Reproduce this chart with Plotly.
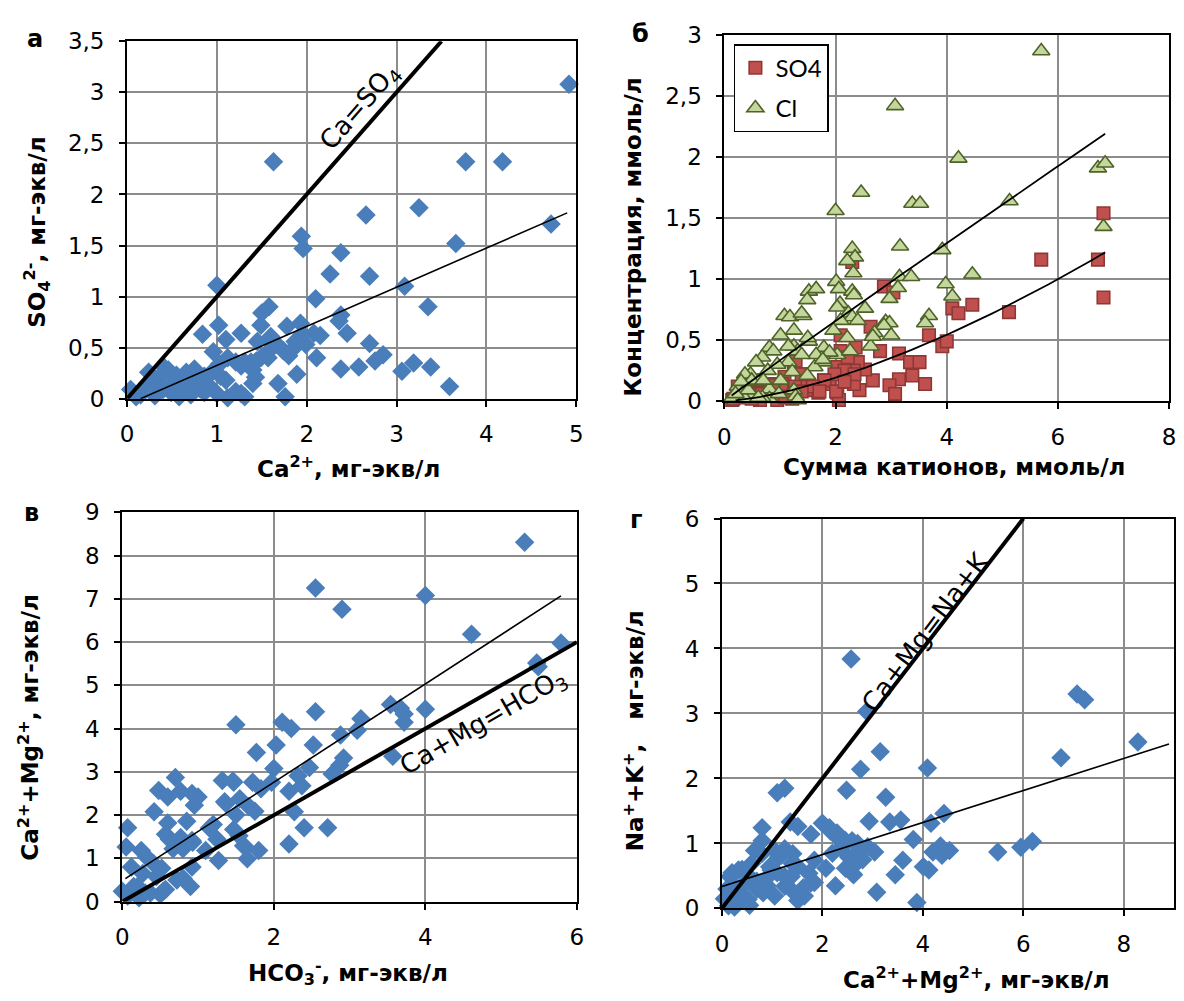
import plotly.graph_objects as go

W, H = 1184, 1001

# ---------------- data ----------------
# (а) Ca2+ vs SO4 2-, мг-экв/л
ca_so4 = [
    (4.92, 3.08), (1.63, 2.32), (3.77, 2.32), (4.18, 2.32), (2.66, 1.80), (3.25, 1.87),
    (4.72, 1.71), (3.66, 1.52), (1.94, 1.59), (1.96, 1.47), (2.38, 1.43), (2.26, 1.22),
    (2.70, 1.20), (1.00, 1.11), (3.09, 1.10), (2.10, 0.98), (3.35, 0.90), (1.58, 0.90),
    (1.50, 0.84), (2.38, 0.82), (2.36, 0.76), (1.02, 0.72), (2.45, 0.64), (1.27, 0.64),
    (0.84, 0.63), (1.49, 0.72), (1.78, 0.71), (1.93, 0.74), (2.08, 0.64), (2.15, 0.62),
    (2.70, 0.54), (1.10, 0.58), (2.85, 0.43), (2.76, 0.37), (0.96, 0.46), (2.11, 0.40),
    (2.58, 0.31), (2.38, 0.29), (3.06, 0.27), (3.19, 0.35), (3.38, 0.31), (3.59, 0.12),
    (1.89, 0.24), (1.68, 0.15), (1.76, 0.02), (1.31, 0.02), (1.21, 0.07), (1.00, 0.05),
    (1.10, 0.18), (1.12, 0.01), (1.40, 0.15), (1.61, 0.55), (1.74, 0.47), (1.80, 0.42),
    (1.86, 0.50), (1.99, 0.53), (1.31, 0.36), (1.44, 0.37), (1.57, 0.40), (1.40, 0.28),
    (1.45, 0.56), (1.60, 0.61), (1.67, 0.53), (1.87, 0.56), (1.95, 0.63), (1.12, 0.40),
    (1.21, 0.36), (1.38, 0.36), (1.49, 0.40), (1.56, 0.45), (1.43, 0.21), (1.27, 0.05),
    (1.27, 0.32), (1.03, 0.34), (1.04, 0.22), (0.04, 0.09), (0.24, 0.26), (0.15, 0.04),
    (0.37, 0.22), (0.46, 0.28), (0.55, 0.23), (0.64, 0.18), (0.75, 0.29), (0.86, 0.22),
    (0.40, 0.09), (0.49, 0.06), (0.60, 0.09), (0.71, 0.04), (0.81, 0.10), (0.31, 0.03),
    (0.20, 0.12), (0.37, 0.15), (0.53, 0.15), (0.70, 0.14), (0.86, 0.06), (0.93, 0.25),
    (0.42, 0.30), (0.10, 0.02), (0.28, 0.18), (0.58, 0.02), (0.66, 0.26), (0.78, 0.19),
    (0.90, 0.14), (0.47, 0.12), (0.62, 0.12),
]
# trend of (а): SO4 = k*Ca + b
a_fit_k, a_fit_b, a_fit_x = 0.383, -0.057, (0.15, 4.9)

# (б) сумма катионов vs SO4 / Cl, ммоль/л
sum_so4 = [
    (6.82, 1.54), (5.70, 1.16), (6.72, 1.16), (6.82, 0.85), (4.46, 0.79), (4.10, 0.76),
    (4.21, 0.72), (5.12, 0.73), (2.87, 0.94), (3.04, 0.89), (2.30, 1.14), (3.68, 0.54),
    (3.92, 0.45), (4.00, 0.49), (2.63, 0.61), (2.80, 0.41), (3.14, 0.39), (3.34, 0.32),
    (3.51, 0.32), (3.38, 0.21), (3.14, 0.18), (2.97, 0.13), (3.61, 0.14), (3.07, 0.06),
    (2.67, 0.17), (2.53, 0.26), (2.43, 0.09), (2.03, 0.28), (2.09, 0.54), (2.09, 0.41),
    (2.36, 0.44), (2.23, 0.32), (2.40, 0.32), (2.33, 0.25), (2.23, 0.16), (2.33, 0.14),
    (2.03, 0.07), (2.06, 0.01), (1.89, 0.14), (1.79, 0.17), (1.62, 0.10), (1.49, 0.09),
    (1.25, 0.30), (1.42, 0.22), (1.42, 0.14), (1.08, 0.20), (0.81, 0.14), (1.01, 0.09),
    (0.61, 0.06), (0.37, 0.03), (0.24, 0.12), (0.14, 0.01), (0.64, 0.01), (0.95, 0.01),
    (1.22, 0.02), (0.57, 0.17), (1.28, 0.33), (1.69, 0.07), (2.16, 0.25), (2.34, 0.22),
    (1.98, 0.22), (2.22, 0.36), (1.80, 0.17), (1.59, 0.12), (1.27, 0.12), (1.39, 0.22),
    (1.03, 0.14), (0.88, 0.13), (0.67, 0.06), (0.16, 0.02), (0.49, 0.02), (1.09, 0.03),
    (1.39, 0.08), (1.71, 0.08), (2.01, 0.08), (2.16, 0.16), (0.40, 0.08), (0.30, 0.05),
]
sum_cl = [
    (5.70, 2.87), (3.07, 2.42), (4.21, 1.99), (2.46, 1.71), (3.38, 1.62), (3.52, 1.62),
    (2.00, 1.56), (5.13, 1.64), (6.72, 1.91), (6.85, 1.95), (6.82, 1.43), (3.16, 1.27),
    (3.92, 1.24), (2.30, 1.25), (2.35, 1.18), (2.21, 1.15), (2.32, 1.05), (3.15, 1.02),
    (3.36, 1.02), (4.46, 1.04), (3.98, 0.96), (4.10, 0.86), (2.01, 0.98), (2.06, 0.92),
    (2.30, 0.90), (2.33, 0.87), (1.52, 0.90), (1.65, 0.92), (1.49, 0.83), (3.12, 0.93),
    (2.97, 0.84), (2.53, 0.76), (2.08, 0.80), (2.03, 0.77), (3.68, 0.70), (3.61, 0.64),
    (1.08, 0.70), (1.18, 0.69), (1.42, 0.70), (2.23, 0.72), (2.30, 0.69), (2.09, 0.66),
    (2.40, 0.66), (2.90, 0.65), (2.97, 0.64), (2.87, 0.62), (2.70, 0.56), (3.00, 0.54),
    (2.63, 0.45), (1.25, 0.58), (1.01, 0.54), (1.96, 0.58), (2.21, 0.52), (1.52, 0.49),
    (1.25, 0.45), (0.81, 0.44), (0.88, 0.41), (1.79, 0.44), (1.32, 0.41), (1.65, 0.38),
    (2.03, 0.38), (1.89, 0.40), (2.26, 0.41), (0.68, 0.36), (0.57, 0.32), (1.15, 0.32),
    (1.79, 0.32), (0.95, 0.30), (1.62, 0.28), (1.22, 0.24), (0.78, 0.25), (0.47, 0.22),
    (1.49, 0.21), (1.01, 0.17), (0.61, 0.16), (0.24, 0.12), (0.37, 0.09), (0.81, 0.10),
    (1.25, 0.09), (0.47, 0.05), (0.81, 0.02), (1.28, 0.04), (1.32, 0.01), (0.14, 0.03),
    (0.37, 0.02), (0.98, 0.06), (0.68, 0.03), (1.39, 0.72), (1.50, 0.52), (2.67, 0.53),
    (1.15, 0.45), (1.77, 0.34), (1.39, 0.38), (0.37, 0.22), (0.49, 0.17), (0.70, 0.17),
    (0.43, 0.09), (0.61, 0.03), (0.30, 0.16), (0.20, 0.06),
]
# power trends of (б): y = a * x^p
so4_fit_a, so4_fit_p, so4_fit_x = 0.068, 1.50, (0.2, 6.85)
cl_fit_a, cl_fit_p, cl_fit_x = 0.335, 0.976, (0.13, 6.85)

# (в) HCO3- vs Ca2+ + Mg2+, мг-экв/л
hco3_camg = [
    (5.31, 8.31), (2.55, 7.25), (2.90, 6.76), (4.00, 7.08), (4.61, 6.18), (5.79, 5.98),
    (5.47, 5.52), (5.49, 5.43), (3.54, 4.56), (3.67, 4.47), (3.72, 4.34), (3.72, 4.15),
    (4.00, 4.45), (2.55, 4.39), (3.15, 4.23), (3.10, 3.96), (2.88, 3.85), (1.50, 4.09),
    (2.11, 4.15), (2.23, 4.00), (2.03, 3.62), (2.52, 3.62), (1.77, 3.45), (3.57, 3.36),
    (2.92, 3.32), (2.87, 3.15), (2.77, 2.95), (2.47, 3.10), (2.00, 3.08), (2.32, 2.91),
    (2.37, 2.68), (1.97, 2.76), (1.32, 2.80), (1.47, 2.76), (1.72, 2.76), (1.83, 2.61),
    (2.20, 2.55), (0.70, 2.87), (0.48, 2.57), (0.60, 2.42), (0.77, 2.55), (0.92, 2.50),
    (1.00, 2.42), (0.95, 2.23), (1.35, 2.31), (1.55, 2.38), (1.67, 2.20), (1.75, 2.09),
    (1.50, 2.01), (2.27, 2.08), (0.42, 2.08), (0.07, 1.71), (0.60, 1.82), (0.85, 1.86),
    (1.20, 1.78), (0.57, 1.56), (1.47, 1.67), (2.40, 1.71), (2.71, 1.71), (2.20, 1.33),
    (0.62, 1.44), (0.77, 1.48), (0.67, 1.22), (0.92, 1.41), (0.80, 1.22), (1.60, 1.29),
    (1.80, 1.18), (1.65, 0.99), (1.27, 0.95), (1.10, 1.18), (1.25, 1.44), (0.05, 1.26),
    (0.25, 1.18), (0.32, 1.03), (0.12, 0.80), (0.52, 0.77), (0.92, 0.80), (0.80, 0.54),
    (0.90, 0.35), (0.27, 0.65), (0.45, 0.58), (0.57, 0.28), (0.50, 0.17), (0.37, 0.20),
    (0.20, 0.35), (0.00, 0.24), (0.07, 0.13), (0.22, 0.09), (0.41, 0.88), (0.93, 1.37),
    (0.72, 0.50), (0.54, 0.24), (0.30, 0.20), (0.15, 0.35), (1.63, 1.25), (1.54, 1.52),
    (1.15, 1.70), (1.46, 2.79), (1.37, 2.27),
]
c_fit_k, c_fit_b, c_fit_x = 1.137, 0.485, (0.04, 5.79)

# (г) Ca2+ + Mg2+ vs Na+ + K+, мг-экв/л
camg_nak = [
    (2.57, 3.84), (2.88, 3.03), (7.07, 3.30), (7.22, 3.21), (8.28, 2.56), (6.75, 2.32),
    (3.15, 2.41), (2.76, 2.14), (4.09, 2.16), (2.48, 1.82), (3.26, 1.71), (1.10, 1.78),
    (1.25, 1.85), (4.42, 1.46), (2.93, 1.34), (3.34, 1.33), (3.56, 1.36), (4.16, 1.31),
    (0.80, 1.24), (1.36, 1.33), (1.51, 1.26), (2.00, 1.31), (2.14, 1.24), (2.29, 1.16),
    (1.77, 1.14), (3.81, 1.06), (5.49, 0.87), (5.95, 0.94), (6.18, 1.03), (4.35, 0.96),
    (4.53, 0.89), (4.20, 0.87), (4.38, 0.82), (3.04, 0.87), (3.60, 0.74), (4.01, 0.64),
    (4.12, 0.59), (3.45, 0.52), (3.08, 0.25), (3.88, 0.09), (2.26, 0.35), (2.07, 0.62),
    (2.59, 0.54), (2.67, 0.69), (2.52, 0.79), (2.37, 0.94), (2.59, 1.04), (2.74, 0.89),
    (1.84, 0.74), (1.73, 0.54), (1.84, 0.40), (1.62, 0.32), (1.51, 0.12), (1.43, 0.25),
    (1.25, 0.49), (1.40, 0.69), (1.13, 0.79), (0.95, 0.64), (0.80, 1.04), (0.65, 0.89),
    (2.16, 1.19), (2.30, 1.09), (2.43, 0.99), (2.46, 0.62), (2.62, 0.52), (1.77, 0.39),
    (1.64, 0.19), (1.25, 0.34), (1.51, 0.64), (1.18, 0.82), (0.98, 0.59), (0.79, 0.84),
    (0.59, 0.69), (0.33, 0.59), (0.16, 0.49), (0.26, 0.34), (0.46, 0.39), (0.69, 0.42),
    (0.82, 0.24), (1.05, 0.19), (0.52, 0.14), (0.30, 0.09), (0.13, 0.04), (0.92, 0.49),
    (1.38, 0.49), (1.25, 0.92), (1.41, 0.84), (1.05, 0.89), (0.20, 0.55), (0.10, 0.30),
    (0.05, 0.15), (0.40, 0.60), (0.60, 0.45), (0.70, 0.30), (0.40, 0.20), (0.90, 0.35),
    (1.10, 0.55), (0.55, 0.05), (0.25, 0.02), (2.45, 1.05), (2.80, 0.75), (2.70, 1.00),
    (2.20, 0.85), (2.90, 0.95),
]
d_fit_k, d_fit_b, d_fit_x = 0.2465, 0.336, (0.0, 8.9)

# ---------------- styling ----------------
BLUE = "#4A7EBB"
RED, RED_EDGE = "#C0504D", "#8C3836"
GREEN, GREEN_EDGE = "#C3D69B", "#4F6228"
GRID = "#8C8C8C"
TICK_FONT = dict(family="DejaVu Sans", size=23, color="black")
TITLE_FONT = dict(family="DejaVu Sans", size=23, color="black")
LETTER_FONT = dict(family="DejaVu Sans", size=24, color="black")
LINE_FONT = dict(family="DejaVu Sans", size=26, color="black")

# plot areas in pixels: left, right, top, bottom
boxes = {
    "": (121.5, 576.0, 29.0, 396.0),
    "2": (726.0, 1176.0, 22.7, 398.5),
    "3": (116.7, 576.7, 512.7, 912.3),
    "4": (723.5, 1181.0, 519.0, 919.3),
}


def fx(px):
    return px / W


def fy(py):
    return 1 - py / H


def unzip(pairs):
    return [p[0] for p in pairs], [p[1] for p in pairs]


def diamonds(pairs, ax):
    xs, ys = unzip(pairs)
    return go.Scatter(x=xs, y=ys, mode="markers", xaxis="x" + ax, yaxis="y" + ax,
                      marker=dict(symbol="diamond", size=15, color=BLUE, line=dict(width=0)),
                      cliponaxis=False, showlegend=False, hoverinfo="x+y")


def line(xs, ys, ax, width):
    return go.Scatter(x=xs, y=ys, mode="lines", xaxis="x" + ax, yaxis="y" + ax,
                      line=dict(color="black", width=width), showlegend=False,
                      hoverinfo="skip")


def linear(k, b, xr, ax):
    return line(list(xr), [k * x + b for x in xr], ax, 1.6)


def power(a, p, xr, ax, n=60):
    xs = [xr[0] + (xr[1] - xr[0]) * i / (n - 1) for i in range(n)]
    return line(xs, [a * x ** p for x in xs], ax, 1.8)


fig = go.Figure()

# (а)
fig.add_trace(diamonds(ca_so4, ""))
fig.add_trace(line([0, 3.5], [0, 3.5], "", 4))
fig.add_trace(linear(a_fit_k, a_fit_b, a_fit_x, ""))

# (б)
sx, sy = unzip(sum_so4)
cx, cy = unzip(sum_cl)
fig.add_trace(go.Scatter(x=sx, y=sy, mode="markers", name="SO4", xaxis="x2", yaxis="y2",
                         marker=dict(symbol="square", size=12.5, color=RED,
                                     line=dict(color=RED_EDGE, width=1.6)),
                         cliponaxis=False, legendgroup="so4"))
fig.add_trace(go.Scatter(x=cx, y=cy, mode="markers", name="Cl", xaxis="x2", yaxis="y2",
                         marker=dict(symbol="triangle-up", size=15, color=GREEN,
                                     line=dict(color=GREEN_EDGE, width=1.6)),
                         cliponaxis=False, legendgroup="cl"))
fig.add_trace(power(cl_fit_a, cl_fit_p, cl_fit_x, "2"))
fig.add_trace(power(so4_fit_a, so4_fit_p, so4_fit_x, "2"))

# (в)
fig.add_trace(diamonds(hco3_camg, "3"))
fig.add_trace(line([0, 6], [0, 6], "3", 4))
fig.add_trace(linear(c_fit_k, c_fit_b, c_fit_x, "3"))

# (г)
fig.add_trace(diamonds(camg_nak, "4"))
fig.add_trace(line([0, 6], [0, 6], "4", 4))
fig.add_trace(linear(d_fit_k, d_fit_b, d_fit_x, "4"))

axis_common = dict(showline=True, linecolor="black", linewidth=2, mirror=True,
                   ticks="outside", ticklen=6, tickwidth=2, tickcolor="black",
                   showgrid=True, gridcolor=GRID, gridwidth=2, zeroline=False,
                   tickfont=TICK_FONT, fixedrange=True)

ranges = {
    "": dict(x=dict(range=[0, 5], dtick=1), y=dict(range=[0, 3.5], dtick=0.5)),
    "2": dict(x=dict(range=[0, 8], dtick=2), y=dict(range=[0, 3], dtick=0.5)),
    "3": dict(x=dict(range=[0, 6], dtick=2), y=dict(range=[0, 9], dtick=1)),
    "4": dict(x=dict(range=[0, 9], tickvals=[0, 2, 4, 6, 8]), y=dict(range=[0, 6], dtick=1)),
}

layout_axes = {}
for ax, (l, r, t, b) in boxes.items():
    layout_axes["xaxis" + ax] = dict(axis_common, domain=[fx(l), fx(r)],
                                     anchor="y" + ax, ticklabelstandoff=8,
                                     **ranges[ax]["x"])
    layout_axes["yaxis" + ax] = dict(axis_common, domain=[fy(b), fy(t)],
                                     anchor="x" + ax, ticklabelstandoff=10,
                                     **ranges[ax]["y"])

annotations = []


def text(px, py, s, font, angle=0, bold=False, anchor="center"):
    annotations.append(dict(x=fx(px), y=fy(py), xref="paper", yref="paper",
                            text="<b>%s</b>" % s if bold else s, showarrow=False,
                            font=font, textangle=angle, xanchor=anchor, yanchor="middle"))


# panel letters
for px, py, s in [(28, 27, "а"), (641, 22, "б"), (25, 513, "в"), (637, 521, "г")]:
    text(px, py, s, LETTER_FONT, bold=True)

# axis titles
text(346, 466, "Ca<sup>2+</sup>, мг-экв/л", TITLE_FONT, bold=True)
text(30, 225, "SO<sub>4</sub><sup>2-</sup>, мг-экв/л", TITLE_FONT, angle=-90, bold=True)
text(958, 466, "Сумма катионов, ммоль/л", TITLE_FONT, bold=True)
text(634, 230, "Концентрация, ммоль/л", TITLE_FONT, angle=-90, bold=True)
text(345, 985, "HCO<sub>3</sub><sup>-</sup>, мг-экв/л", TITLE_FONT, bold=True)
text(22, 733, "Ca<sup>2+</sup>+Mg<sup>2+</sup>, мг-экв/л", TITLE_FONT, angle=-90, bold=True)
text(981, 991, "Ca<sup>2+</sup>+Mg<sup>2+</sup>, мг-экв/л", TITLE_FONT, bold=True)
text(634, 737, "Na<sup>+</sup>+K<sup>+</sup>,\u00a0\u00a0\u00a0мг-экв/л", TITLE_FONT,
     angle=-90, bold=True)

# labels along the equivalence lines
text(357, 97, "Ca=SO<sub>4</sub>", LINE_FONT, angle=-49)
text(482, 728, "Ca+Mg=HCO<sub>3</sub>", LINE_FONT, angle=-30)
text(929, 635, "Ca+Mg=Na+K", LINE_FONT, angle=-53)

fig.update_layout(
    width=W, height=H, margin=dict(l=0, r=0, t=0, b=0),
    paper_bgcolor="white", plot_bgcolor="white",
    separators=", ",
    showlegend=True,
    legend=dict(x=fx(735.6), y=fy(32), xanchor="left", yanchor="top",
                bordercolor="black", borderwidth=1.5, bgcolor="white",
                font=dict(family="Lato", size=24, color="black"),
                traceorder="grouped", tracegroupgap=6, itemsizing="trace"),
    annotations=annotations,
    **layout_axes,
)

fig.write_html("out.html")
